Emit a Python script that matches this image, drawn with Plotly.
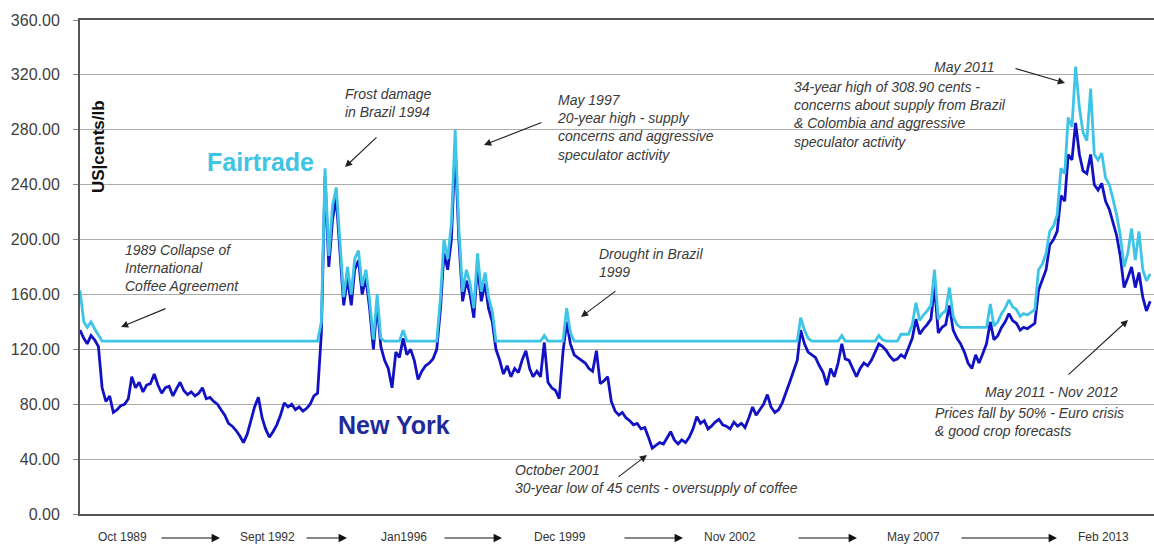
import plotly.graph_objects as go
import pandas as pd

# ---------------- data (US cents/lb, monthly, Jan 1989 - Jan 2013) ----------------
start_month = "1989-01-01"

new_york = [
    134, 128, 124, 130, 127, 122, 92, 82, 86, 74, 76, 79,        # 1989
    80, 84, 100, 92, 96, 89, 94, 95, 102, 94, 88, 92,            # 1990
    93, 86, 91, 96, 90, 87, 89, 86, 88, 92, 84, 85,              # 1991
    82, 80, 76, 72, 66, 64, 61, 57, 52, 58, 68, 78,              # 1992
    85, 70, 62, 56, 60, 65, 72, 81, 78, 80, 76, 78,              # 1993
    75, 77, 80, 86, 88, 132, 246, 180, 215, 230, 190, 152,       # 1994
    172, 152, 178, 185, 160, 172, 150, 120, 153, 122, 112, 106,  # 1995
    92, 118, 114, 128, 116, 120, 112, 98, 104, 108, 110, 113,    # 1996
    120, 150, 190, 178, 200, 268, 200, 155, 170, 160, 143, 182,  # 1997
    155, 168, 150, 140, 120, 112, 102, 108, 100, 106, 103, 112,  # 1998
    119, 106, 100, 104, 100, 125, 96, 92, 90, 84, 118, 140,      # 1999
    124, 116, 114, 112, 110, 106, 104, 119, 95, 97, 100, 82,     # 2000
    75, 72, 74, 70, 68, 65, 66, 62, 63, 56, 48, 50,              # 2001
    52, 51, 55, 60, 54, 51, 54, 52, 56, 62, 71, 66,              # 2002
    68, 62, 64, 67, 69, 65, 64, 62, 67, 64, 66, 63,              # 2003
    70, 78, 72, 76, 80, 87, 78, 74, 76, 81, 88, 96,              # 2004
    104, 112, 134, 124, 118, 116, 114, 108, 103, 94, 106, 100,   # 2005
    110, 124, 113, 112, 106, 100, 106, 110, 108, 112, 118, 124,  # 2006
    122, 119, 115, 112, 113, 116, 114, 121, 128, 142, 131, 135,  # 2007
    138, 142, 166, 132, 136, 138, 152, 134, 128, 124, 118, 110,  # 2008
    106, 116, 110, 117, 124, 140, 127, 130, 136, 140, 146, 141,  # 2009
    139, 134, 136, 135, 137, 139, 163, 170, 178, 196, 200, 206,  # 2010
    232, 228, 262, 258, 285, 262, 250, 248, 262, 240, 236, 241,  # 2011
    228, 222, 212, 203, 188, 165, 172, 180, 165, 176, 158, 148,  # 2012
    155,                                                         # 2013
]

fairtrade = [
    163, 140, 136, 140, 135, 130, 126, 126, 126, 126, 126, 126,  # 1989
    126, 126, 126, 126, 126, 126, 126, 126, 126, 126, 126, 126,  # 1990
    126, 126, 126, 126, 126, 126, 126, 126, 126, 126, 126, 126,  # 1991
    126, 126, 126, 126, 126, 126, 126, 126, 126, 126, 126, 126,  # 1992
    126, 126, 126, 126, 126, 126, 126, 126, 126, 126, 126, 126,  # 1993
    126, 126, 126, 126, 126, 140, 252, 188, 225, 238, 198, 158,  # 1994
    180, 160, 186, 192, 166, 178, 156, 127, 160, 128, 126, 126,  # 1995
    126, 126, 126, 134, 126, 126, 126, 126, 126, 126, 126, 126,  # 1996
    126, 158, 200, 186, 212, 280, 208, 162, 178, 168, 150, 190,  # 1997
    162, 176, 158, 148, 126, 126, 126, 126, 126, 126, 126, 126,  # 1998
    126, 126, 126, 126, 126, 130, 126, 126, 126, 126, 126, 150,  # 1999
    132, 126, 126, 126, 126, 126, 126, 126, 126, 126, 126, 126,  # 2000
    126, 126, 126, 126, 126, 126, 126, 126, 126, 126, 126, 126,  # 2001
    126, 126, 126, 126, 126, 126, 126, 126, 126, 126, 126, 126,  # 2002
    126, 126, 126, 126, 126, 126, 126, 126, 126, 126, 126, 126,  # 2003
    126, 126, 126, 126, 126, 126, 126, 126, 126, 126, 126, 126,  # 2004
    126, 126, 143, 134, 128, 126, 126, 126, 126, 126, 126, 126,  # 2005
    126, 130, 126, 126, 126, 126, 126, 126, 126, 126, 126, 130,  # 2006
    127, 126, 126, 126, 126, 131, 131, 131, 138, 154, 141, 145,  # 2007
    148, 152, 178, 142, 146, 148, 165, 144, 138, 136, 136, 136,  # 2008
    136, 136, 136, 136, 136, 153, 137, 140, 146, 150, 156, 151,  # 2009
    149, 144, 146, 145, 147, 149, 178, 182, 190, 206, 210, 218,  # 2010
    252, 248, 289, 282, 326, 296, 278, 272, 310, 262, 258, 263,  # 2011
    245, 240, 230, 218, 203, 180, 190, 208, 185, 206, 178, 170,  # 2012
    175,                                                         # 2013
]

y_ticks = [0, 40, 80, 120, 160, 200, 240, 280, 320, 360]
x_labels = ["Oct 1989", "Sept 1992", "Jan1996", "Dec 1999", "Nov 2002", "May 2007", "Feb 2013"]

notes = [
    "1989 Collapse of<br>International<br>Coffee Agreement",
    "Frost damage<br>in Brazil 1994",
    "May 1997<br>20-year high - supply<br>concerns and aggressive<br>speculator activity",
    "Drought in Brazil<br>1999",
    "October 2001<br>30-year low of 45 cents - oversupply of coffee",
    "May 2011",
    "34-year high of 308.90 cents -<br>concerns about supply from Brazil<br>& Colombia and aggressive<br>speculator activity",
    "May 2011 - Nov 2012",
    "Prices fall by 50% - Euro crisis<br>& good crop forecasts",
]

# ---------------- layout geometry (pixels of the 1154x546 page) ----------------
W, H = 1154, 546
ML, MR, MT, MB = 80, 0, 20, 32
PW, PH = W - ML - MR, H - MT - MB


def px(x):
    return (x - ML) / PW


def py(y):
    return (H - MB - y) / PH


months = pd.date_range(start_month, periods=len(new_york), freq="MS")

NY_COLOR = "#1212c4"
FT_COLOR = "#3ec4e6"
FONT = "Liberation Sans, Arial, sans-serif"

fig = go.Figure()
fig.add_trace(go.Scatter(x=months, y=new_york, mode="lines", name="New York",
                         line=dict(color=NY_COLOR, width=2.8), hoverinfo="x+y"))
fig.add_trace(go.Scatter(x=months, y=fairtrade, mode="lines", name="Fairtrade",
                         line=dict(color=FT_COLOR, width=2.8), hoverinfo="x+y"))

annotations = []
note_font = dict(family=FONT, size=14, color="#3a3a3a")

# (text index, left x, center y)
note_pos = [(0, 123, 268), (1, 343, 103), (2, 555, 127), (3, 597, 263), (4, 513, 479),
            (5, 932, 67), (6, 792, 114), (7, 983, 392), (8, 933, 422)]
for i, x, y in note_pos:
    annotations.append(dict(text="<i>" + notes[i] + "</i>", x=px(x), y=py(y), xref="paper", yref="paper",
                            xanchor="left", yanchor="middle", align="left", showarrow=False,
                            font=note_font))

# arrows: (tail x, tail y, head x, head y)
arrows = [(167, 308, 121, 327), (378, 136, 345, 167), (543, 122, 484, 145),
          (617, 290, 581, 317), (617, 478, 647, 455), (1014, 68, 1065, 83),
          (1067, 376, 1128, 320)]
for tx, ty, hx, hy in arrows:
    annotations.append(dict(text="", x=px(hx), y=py(hy), xref="paper", yref="paper",
                            ax=tx - hx, ay=ty - hy, showarrow=True, arrowhead=2,
                            arrowsize=1.3, arrowwidth=1.1, arrowcolor="#222222",
                            standoff=0, startstandoff=0))

# series labels
annotations.append(dict(text="<b>Fairtrade</b>", x=px(260), y=py(162), xref="paper", yref="paper",
                        xanchor="center", yanchor="middle", showarrow=False,
                        font=dict(family=FONT, size=25, color=FT_COLOR)))
annotations.append(dict(text="<b>New York</b>", x=px(394), y=py(425), xref="paper", yref="paper",
                        xanchor="center", yanchor="middle", showarrow=False,
                        font=dict(family=FONT, size=25, color="#1e2a9a")))
# axis title (inside the plot area)
annotations.append(dict(text="<b>US|cents/lb</b>", x=px(98), y=py(147), xref="paper", yref="paper",
                        xanchor="center", yanchor="middle", showarrow=False, textangle=-90,
                        font=dict(family=FONT, size=17, color="#111111")))

# bottom time labels with arrows between them
label_x = [122, 267, 404, 560, 730, 913, 1103]
label_y = 537
for lab, x in zip(x_labels, label_x):
    annotations.append(dict(text=lab, x=px(x), y=py(label_y), xref="paper", yref="paper",
                            showarrow=False, xanchor="center", yanchor="middle",
                            font=dict(family=FONT, size=12, color="#333333")))
label_arrows = [(160, 220), (305, 347), (443, 502), (623, 683), (797, 857), (960, 1057)]
for a, b in label_arrows:
    annotations.append(dict(text="", x=px(b), y=py(label_y + 1), xref="paper", yref="paper",
                            ax=a - b, ay=0, showarrow=True, arrowhead=2, arrowsize=1.4,
                            arrowwidth=1.2, arrowcolor="#111111", standoff=0))

fig.update_layout(
    width=W, height=H,
    margin=dict(l=ML, r=MR, t=MT, b=MB),
    paper_bgcolor="white", plot_bgcolor="white",
    showlegend=False,
    font=dict(family=FONT),
    annotations=annotations,
    xaxis=dict(type="date", range=["1989-01-01", "2013-02-01"], showgrid=False,
               showticklabels=False, ticks="", zeroline=False,
               showline=True, linecolor="#555555", linewidth=2, mirror=True),
    yaxis=dict(range=[0, 360], tickvals=y_ticks, tickformat=".2f",
               showgrid=True, gridcolor="#ababab", gridwidth=1.4, zeroline=False,
               showline=True, linecolor="#555555", linewidth=2,
               ticks="outside", ticklen=5, tickcolor="#888888", ticklabelstandoff=10,
               tickfont=dict(family=FONT, size=16, color="#404040")),
)

fig.write_html("out.html")
